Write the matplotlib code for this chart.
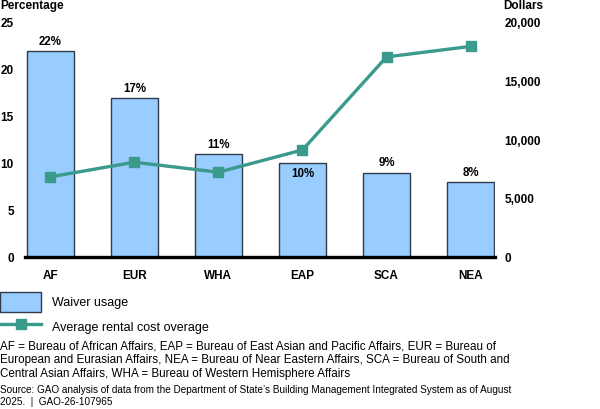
import matplotlib.pyplot as plt
from matplotlib.patches import Patch
from matplotlib.lines import Line2D

plt.rcParams['font.family'] = ['Liberation Sans', 'DejaVu Sans']

# Data
bureaus = ["AF", "EUR", "WHA", "EAP", "SCA", "NEA"]
waiver_pct = [22, 17, 11, 10, 9, 8]
rent_overage = [6850, 8100, 7250, 9150, 17100, 18000]
pct_labels = ["22%", "17%", "11%", "10%", "9%", "8%"]

bar_color = "#99ccff"
edge_color = "#2e3c4c"
line_color = "#3a9a8c"

fig = plt.figure(figsize=(6, 4.09), dpi=100)
ax = fig.add_axes([0.0417, 0.3716, 0.7833, 0.5722])
x = list(range(len(bureaus)))

ax.bar(x, waiver_pct, width=0.56, color=bar_color, edgecolor=edge_color, linewidth=1.0, zorder=2)
for i, (v, lab) in enumerate(zip(waiver_pct, pct_labels)):
    if lab == "10%":
        # label sits inside the bar where the line passes above
        ax.text(i, v - 0.45, lab, ha="center", va="top", fontsize=8.3, fontweight="bold")
    else:
        ax.text(i, v + 0.35, lab, ha="center", va="bottom", fontsize=8.3, fontweight="bold")

ax.set_xlim(-0.3, 5.29)
ax.set_ylim(0, 25)
ax.set_yticks([0, 5, 10, 15, 20, 25])
ax.set_xticks(x)
ax.set_xticklabels(bureaus, fontweight="bold", fontsize=8.5)
ax.tick_params(axis="y", length=0, pad=8, labelsize=8.5)
ax.tick_params(axis="x", length=0, pad=9)
for lab in ax.get_yticklabels():
    lab.set_fontweight("bold")
for s in ["top", "right", "left"]:
    ax.spines[s].set_visible(False)
ax.spines["bottom"].set_linewidth(2.4)
ax.spines["bottom"].set_color("black")
ax.spines["bottom"].set_zorder(5)

ax2 = ax.twinx()
ax2.plot(x, rent_overage, color=line_color, linewidth=2.4, marker="s", markersize=7.2, zorder=4)
ax2.set_ylim(0, 20000)
ax2.set_yticks([0, 5000, 10000, 15000, 20000])
ax2.set_yticklabels(["0", "5,000", "10,000", "15,000", "20,000"], fontweight="bold", fontsize=8.5)
ax2.tick_params(axis="y", length=0, pad=7)
for s in ["top", "right", "left", "bottom"]:
    ax2.spines[s].set_visible(False)

fig.text(0.0, 0.985, "Percentage", fontsize=8.5, fontweight="bold", ha="left", va="center")
fig.text(0.838, 0.985, "Dollars", fontsize=8.5, fontweight="bold", ha="left", va="center")

handles = [
    Patch(facecolor=bar_color, edgecolor=edge_color, linewidth=1.0),
    Line2D([], [], color=line_color, linewidth=2.4, marker="s", markersize=6.5),
]
fig.legend(handles, ["Waiver usage", "Average rental cost overage"], loc="upper left",
           bbox_to_anchor=(0.0, 0.286), frameon=False, fontsize=9,
           handlelength=3.28, handleheight=2.08, handletextpad=0.88, labelspacing=0.4,
           borderpad=0, borderaxespad=0)

fig.text(0.0, 0.1198,
         "AF = Bureau of African Affairs, EAP = Bureau of East Asian and Pacific Affairs, EUR = Bureau of\n"
         "European and Eurasian Affairs, NEA = Bureau of Near Eastern Affairs, SCA = Bureau of South and\n"
         "Central Asian Affairs, WHA = Bureau of Western Hemisphere Affairs",
         fontsize=8.35, ha="left", va="center", linespacing=1.2)
fig.text(0.0, 0.033,
         "Source: GAO analysis of data from the Department of State\u2019s Building Management Integrated System as of August\n"
         "2025.  |  GAO-26-107965",
         fontsize=7.2, ha="left", va="center", linespacing=1.25)

fig.savefig("out.png", dpi=100)
